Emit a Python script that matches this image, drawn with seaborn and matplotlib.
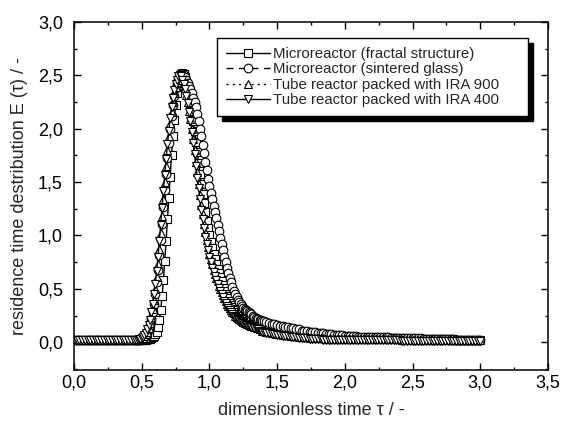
import numpy as np
import matplotlib
matplotlib.use("Agg")
import matplotlib.pyplot as plt
import seaborn as sns
from matplotlib.ticker import MultipleLocator, FuncFormatter

# Sampling grid of dimensionless time: 0.02 steps on the baseline and tail,
# 0.01 steps across the pulse
tau = np.round(np.concatenate([
    np.linspace(0.00, 0.46, 24),
    np.linspace(0.47, 1.40, 94),
    np.linspace(1.42, 3.00, 80),
]), 2)

# Residence time distribution E(tau) for each reactor
e_fractal = [
    # 0.00 - 0.46
    0.02, 0.02, 0.02, 0.02, 0.02, 0.02, 0.02, 0.02, 0.02, 0.02, 0.02, 0.02,
    0.02, 0.02, 0.02, 0.02, 0.02, 0.02, 0.02, 0.02, 0.02, 0.02, 0.02, 0.02,
    # 0.47 - 1.40
    0.02,
    0.02, 0.02, 0.02, 0.02, 0.02, 0.02, 0.03, 0.03, 0.03, 0.04,
    0.05, 0.06, 0.08, 0.10, 0.14, 0.21, 0.30, 0.43, 0.58, 0.76,
    0.95, 1.15, 1.35, 1.55, 1.75, 1.93, 2.08, 2.22, 2.33, 2.41,
    2.47, 2.51, 2.52, 2.51, 2.48, 2.44, 2.38, 2.31, 2.24, 2.16,
    2.07, 1.98, 1.88, 1.78, 1.68, 1.58, 1.48, 1.39, 1.30, 1.22,
    1.14, 1.07, 1.00,
    0.94, 0.88, 0.83, 0.78, 0.73, 0.69, 0.65, 0.61, 0.57, 0.54,
    0.51, 0.48, 0.45, 0.43, 0.41, 0.39, 0.37, 0.35, 0.33, 0.31,
    0.30, 0.28, 0.27, 0.26, 0.25, 0.24, 0.23, 0.22, 0.21, 0.20,
    0.20, 0.19, 0.19, 0.18, 0.18, 0.17, 0.17, 0.16, 0.16, 0.15,
    # 1.42 - 3.00
    0.15, 0.14, 0.14, 0.13, 0.13, 0.12, 0.12, 0.11, 0.11, 0.10,
    0.10, 0.10, 0.09, 0.09, 0.09, 0.08, 0.08, 0.08, 0.07, 0.07,
    0.07, 0.07, 0.06, 0.06, 0.06, 0.06, 0.06, 0.05, 0.05, 0.05,
    0.05, 0.05, 0.05, 0.05, 0.04, 0.04, 0.04, 0.04, 0.04, 0.04,
    0.04, 0.04, 0.04, 0.04, 0.04, 0.04, 0.04, 0.04, 0.04, 0.04,
    0.03, 0.03, 0.03, 0.03, 0.03, 0.03, 0.03, 0.03, 0.03, 0.03,
    0.03, 0.03, 0.03, 0.03, 0.03, 0.03, 0.03, 0.03, 0.03, 0.03,
    0.02, 0.02, 0.02, 0.02, 0.02, 0.02, 0.02, 0.02, 0.02, 0.02,
]
e_sintered = [
    # 0.00 - 0.46
    0.02, 0.02, 0.02, 0.02, 0.02, 0.02, 0.02, 0.02, 0.02, 0.02, 0.02, 0.02,
    0.02, 0.02, 0.02, 0.02, 0.02, 0.02, 0.02, 0.02, 0.02, 0.02, 0.02, 0.02,
    # 0.47 - 1.40
    0.02,
    0.02, 0.03, 0.03, 0.04, 0.05, 0.07, 0.09, 0.12, 0.16, 0.22,
    0.28, 0.36, 0.45, 0.56, 0.68, 0.82, 0.96, 1.11, 1.27, 1.43,
    1.58, 1.73, 1.87, 2.00, 2.12, 2.22, 2.31, 2.38, 2.43, 2.47,
    2.50, 2.51, 2.51, 2.50, 2.48, 2.46, 2.43, 2.40, 2.37, 2.33,
    2.29, 2.25, 2.20, 2.14, 2.07, 2.00, 1.93, 1.85, 1.77, 1.69,
    1.61, 1.53, 1.46,
    1.40, 1.34, 1.28, 1.22, 1.16, 1.10, 1.04, 0.98, 0.92, 0.86,
    0.80, 0.75, 0.70, 0.65, 0.60, 0.56, 0.52, 0.48, 0.45, 0.42,
    0.40, 0.38, 0.36, 0.34, 0.32, 0.31, 0.30, 0.29, 0.28, 0.27,
    0.26, 0.25, 0.24, 0.23, 0.22, 0.22, 0.21, 0.21, 0.20, 0.20,
    # 1.42 - 3.00
    0.19, 0.18, 0.17, 0.17, 0.16, 0.15, 0.15, 0.14, 0.14, 0.13,
    0.13, 0.12, 0.12, 0.11, 0.11, 0.11, 0.10, 0.10, 0.10, 0.09,
    0.09, 0.09, 0.08, 0.08, 0.08, 0.07, 0.07, 0.07, 0.07, 0.06,
    0.06, 0.06, 0.06, 0.06, 0.05, 0.05, 0.05, 0.05, 0.05, 0.05,
    0.05, 0.05, 0.05, 0.05, 0.05, 0.05, 0.04, 0.04, 0.04, 0.04,
    0.04, 0.04, 0.04, 0.04, 0.04, 0.04, 0.04, 0.04, 0.03, 0.03,
    0.03, 0.03, 0.03, 0.03, 0.03, 0.03, 0.03, 0.03, 0.03, 0.03,
    0.02, 0.02, 0.02, 0.02, 0.02, 0.02, 0.02, 0.02, 0.02, 0.02,
]
e_ira900 = [
    # 0.00 - 0.46
    0.02, 0.02, 0.02, 0.02, 0.02, 0.02, 0.02, 0.02, 0.02, 0.02, 0.02, 0.02,
    0.02, 0.02, 0.02, 0.02, 0.02, 0.02, 0.02, 0.02, 0.02, 0.02, 0.02, 0.02,
    # 0.47 - 1.40
    0.02,
    0.02, 0.03, 0.03, 0.04, 0.06, 0.08, 0.10, 0.13, 0.18, 0.24,
    0.31, 0.40, 0.50, 0.61, 0.73, 0.87, 1.02, 1.18, 1.34, 1.50,
    1.65, 1.80, 1.93, 2.05, 2.16, 2.25, 2.33, 2.39, 2.44, 2.47,
    2.48, 2.48, 2.46, 2.43, 2.38, 2.32, 2.25, 2.17, 2.09, 2.00,
    1.90, 1.80, 1.69, 1.59, 1.48, 1.38, 1.29, 1.20, 1.11, 1.03,
    0.96, 0.89, 0.83,
    0.78, 0.73, 0.68, 0.64, 0.60, 0.57, 0.53, 0.50, 0.47, 0.44,
    0.41, 0.39, 0.36, 0.34, 0.32, 0.30, 0.28, 0.27, 0.25, 0.24,
    0.23, 0.22, 0.21, 0.20, 0.19, 0.18, 0.18, 0.17, 0.16, 0.16,
    0.15, 0.15, 0.14, 0.14, 0.13, 0.13, 0.12, 0.12, 0.11, 0.11,
    # 1.42 - 3.00
    0.10, 0.10, 0.09, 0.09, 0.08, 0.08, 0.07, 0.07, 0.07, 0.06,
    0.06, 0.06, 0.05, 0.05, 0.05, 0.05, 0.04, 0.04, 0.04, 0.04,
    0.04, 0.04, 0.03, 0.03, 0.03, 0.03, 0.03, 0.03, 0.03, 0.03,
    0.03, 0.03, 0.03, 0.03, 0.03, 0.03, 0.03, 0.03, 0.03, 0.03,
    0.03, 0.03, 0.03, 0.03, 0.03, 0.03, 0.03, 0.03, 0.03, 0.03,
    0.02, 0.02, 0.02, 0.02, 0.02, 0.02, 0.02, 0.02, 0.02, 0.02,
    0.02, 0.02, 0.02, 0.02, 0.02, 0.02, 0.02, 0.02, 0.02, 0.02,
    0.02, 0.02, 0.02, 0.02, 0.02, 0.02, 0.02, 0.02, 0.02, 0.02,
]
e_ira400 = [
    # 0.00 - 0.46
    0.02, 0.02, 0.02, 0.02, 0.02, 0.02, 0.02, 0.02, 0.02, 0.02, 0.02, 0.02,
    0.02, 0.02, 0.02, 0.02, 0.02, 0.02, 0.02, 0.02, 0.02, 0.02, 0.02, 0.02,
    # 0.47 - 1.40
    0.02,
    0.03, 0.03, 0.04, 0.05, 0.07, 0.09, 0.12, 0.16, 0.21, 0.28,
    0.36, 0.45, 0.55, 0.67, 0.80, 0.95, 1.10, 1.26, 1.42, 1.57,
    1.72, 1.86, 1.98, 2.10, 2.20, 2.29, 2.36, 2.42, 2.46, 2.49,
    2.50, 2.49, 2.46, 2.42, 2.37, 2.31, 2.24, 2.16, 2.07, 1.97,
    1.87, 1.76, 1.65, 1.54, 1.44, 1.34, 1.24, 1.15, 1.07, 0.99,
    0.92, 0.86, 0.80,
    0.75, 0.70, 0.66, 0.62, 0.58, 0.55, 0.51, 0.48, 0.45, 0.42,
    0.39, 0.37, 0.34, 0.32, 0.30, 0.28, 0.26, 0.25, 0.24, 0.23,
    0.22, 0.21, 0.20, 0.19, 0.18, 0.17, 0.17, 0.16, 0.15, 0.15,
    0.14, 0.14, 0.13, 0.13, 0.12, 0.12, 0.11, 0.11, 0.10, 0.10,
    # 1.42 - 3.00
    0.09, 0.09, 0.08, 0.08, 0.07, 0.07, 0.06, 0.06, 0.06, 0.05,
    0.05, 0.05, 0.04, 0.04, 0.04, 0.04, 0.03, 0.03, 0.03, 0.03,
    0.03, 0.02, 0.02, 0.02, 0.02, 0.02, 0.02, 0.02, 0.02, 0.02,
    0.02, 0.02, 0.02, 0.02, 0.02, 0.02, 0.02, 0.02, 0.02, 0.02,
    0.02, 0.02, 0.02, 0.02, 0.02, 0.02, 0.02, 0.02, 0.02, 0.02,
    0.01, 0.01, 0.01, 0.01, 0.01, 0.01, 0.01, 0.01, 0.01, 0.01,
    0.01, 0.01, 0.01, 0.01, 0.01, 0.01, 0.01, 0.01, 0.01, 0.01,
    0.01, 0.01, 0.01, 0.01, 0.01, 0.01, 0.01, 0.01, 0.01, 0.01,
]

series_labels = [
    "Microreactor (fractal structure)",
    "Microreactor (sintered glass)",
    "Tube reactor packed with IRA 900",
    "Tube reactor packed with IRA 400",
]
series_values = [e_fractal, e_sintered, e_ira900, e_ira400]
series_markers = ["s", "o", "^", "v"]
series_lines = ["-", (0, (5, 4)), (0, (1.5, 3)), "-"]

sns.set_style("ticks")
plt.rcParams["font.family"] = ["Liberation Sans", "DejaVu Sans"]

fig = plt.figure(figsize=(5.65, 4.3), dpi=100)
ax = fig.add_axes([0.131, 0.1395, 0.839, 0.8095])

for lab, vals, mk, ls in zip(series_labels, series_values, series_markers, series_lines):
    sns.lineplot(x=tau, y=np.asarray(vals), ax=ax, color="black", linewidth=1.0,
                 linestyle=ls, marker=mk, markersize=6.2,
                 markerfacecolor="white", markeredgecolor="black",
                 markeredgewidth=0.8, label=lab, sort=False, estimator=None)

ax.set_xlim(0, 3.5)
ax.set_ylim(-0.26, 3.0)
ax.xaxis.set_major_locator(MultipleLocator(0.5))
ax.xaxis.set_minor_locator(MultipleLocator(0.25))
ax.yaxis.set_major_locator(MultipleLocator(0.5))
ax.yaxis.set_minor_locator(MultipleLocator(0.25))
comma = FuncFormatter(lambda v, p: f"{v:.1f}".replace(".", ","))
ax.xaxis.set_major_formatter(comma)
ax.yaxis.set_major_formatter(comma)

ax.tick_params(which="both", direction="in", top=True, right=True,
               color="black", width=1.0, labelsize=13, labelcolor="black")
ax.tick_params(which="major", length=5)
ax.tick_params(which="minor", length=2.5)
ax.tick_params(axis="x", pad=3.5)
ax.tick_params(axis="y", pad=8)
for sp in ax.spines.values():
    sp.set_linewidth(1.1)
    sp.set_color("black")

ax.set_xlabel("dimensionless time \u03c4 / -", fontsize=13, labelpad=7)
ax.set_ylabel("residence time destribution E (\u03c4) / -", fontsize=13, labelpad=7)

# Legend box stretched across a fixed span in the upper right of the axes
leg = ax.legend(loc="upper left", bbox_to_anchor=(0.302, 0.5, 0.656, 0.454),
                mode="expand", fontsize=10.8,
                frameon=True, fancybox=False, framealpha=1, edgecolor="black",
                handlelength=2.9, handletextpad=0.2, labelspacing=0.1,
                borderpad=0.6, borderaxespad=0,
                shadow={"ox": 3.5, "oy": -3.5, "color": "black", "alpha": 1})
leg.get_frame().set_linewidth(1.0)

fig.savefig("out.png", dpi=100)
